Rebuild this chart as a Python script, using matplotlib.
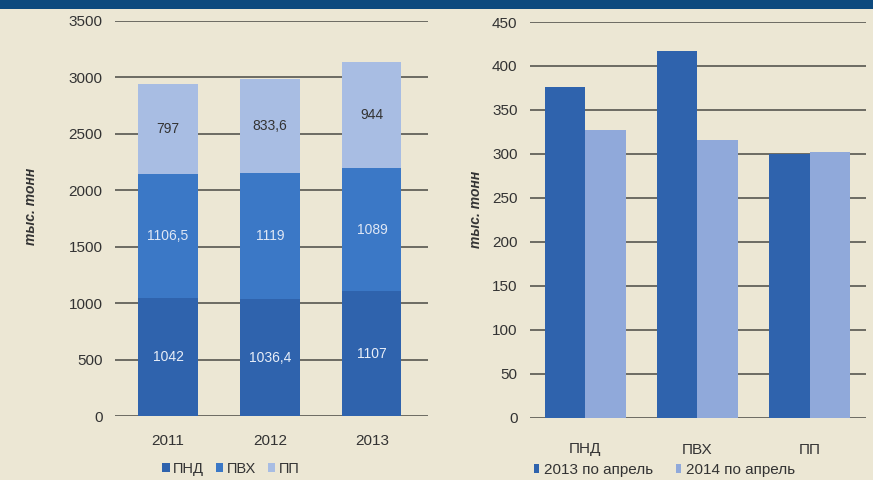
# %% Imports
import matplotlib
matplotlib.use("Agg")
import matplotlib.pyplot as plt
import numpy as np
from matplotlib.patches import Rectangle

# %% Data
years = ['2011', '2012', '2013']
pnd = [1042, 1036.4, 1107]
pvh = [1106.5, 1119, 1089]
pp = [797, 833.6, 944]
pnd_lbl = ['1042', '1036,4', '1107']
pvh_lbl = ['1106,5', '1119', '1089']
pp_lbl = ['797', '833,6', '944']

materials = ['ПНД', 'ПВХ', 'ПП']
apr_2013 = [376, 417, 300]
apr_2014 = [327, 316, 302]

# %% Style
plt.rcParams['font.family'] = ['Liberation Sans', 'DejaVu Sans']
bg = '#ece7d4'
c_dark = '#2f63ad'
c_mid = '#3b78c6'
c_light = '#a8bde3'
c_light2 = '#90a9da'
grid_c = '#4a4a44'
txt = '#333333'

fig = plt.figure(figsize=(8.73, 4.8), dpi=100, facecolor=bg)
# dark band at the top
fig.patches.append(Rectangle((0, 1 - 9 / 480), 1, 9 / 480, transform=fig.transFigure,
                             facecolor='#0d4a7e', edgecolor='none'))


def style_axes(ax, ticks, xpad):
    ax.set_facecolor(bg)
    for s in ax.spines.values():
        s.set_visible(False)
    ax.set_yticks(ticks)
    ax.yaxis.grid(True, color=grid_c, linewidth=1.1)
    ax.set_axisbelow(True)
    ax.tick_params(axis='both', length=0, labelsize=11, colors=txt)
    ax.tick_params(axis='y', pad=9)
    ax.tick_params(axis='x', pad=xpad)
    ax.set_ylabel('тыс. тонн', fontsize=10, fontstyle='italic', fontweight='bold',
                  color=txt)


# %% Left: stacked bars
ax1 = fig.add_axes([115 / 873, 1 - 416 / 480, 313 / 873, 395 / 480])
x = np.arange(len(years))
w = 0.58
ax1.bar(x, pnd, w, color=c_dark, label='ПНД')
ax1.bar(x, pvh, w, bottom=pnd, color=c_mid, label='ПВХ')
bottom3 = np.array(pnd) + np.array(pvh)
ax1.bar(x, pp, w, bottom=bottom3, color=c_light, label='ПП')
for i in range(len(years)):
    ax1.text(x[i], pnd[i] / 2, pnd_lbl[i], ha='center', va='center', fontsize=10,
             color='#e8eef8')
    ax1.text(x[i], pnd[i] + pvh[i] / 2, pvh_lbl[i], ha='center', va='center',
             fontsize=10, color='#dfe7f5')
    ax1.text(x[i], bottom3[i] + pp[i] / 2, pp_lbl[i], ha='center', va='center',
             fontsize=10, color=txt)
ax1.set_xticks(x)
ax1.set_xticklabels(years)
ax1.set_xlim(-0.52, 2.55)
ax1.set_ylim(0, 3500)
style_axes(ax1, np.arange(0, 3501, 500), 13)
ax1.yaxis.set_label_coords(-0.246, 0.53)
ax1.legend(loc='upper center', bbox_to_anchor=(0.37, -0.083), ncol=3, frameon=False,
           fontsize=10.5, handlelength=0.5, handleheight=0.6, handletextpad=0.25,
           columnspacing=0.8, labelcolor=txt)

# %% Right: grouped bars
ax2 = fig.add_axes([530 / 873, 1 - 417.5 / 480, 336 / 873, 395.5 / 480])
x2 = np.arange(len(materials))
w2 = 0.36
ax2.bar(x2 - w2 / 2, apr_2013, w2, color=c_dark, label='2013 по апрель')
ax2.bar(x2 + w2 / 2, apr_2014, w2, color=c_light2, label='2014 по апрель')
ax2.set_xticks(x2)
ax2.set_xticklabels(materials)
ax2.set_xlim(-0.49, 2.5)
ax2.set_ylim(0, 450)
style_axes(ax2, np.arange(0, 451, 50), 18)
ax2.yaxis.set_label_coords(-0.14, 0.527)
ax2.legend(loc='upper left', bbox_to_anchor=(-0.03, -0.08), ncol=2, frameon=False,
           fontsize=11, handlelength=0.35, handleheight=0.6, handletextpad=0.35,
           columnspacing=1.45, labelcolor=txt)

fig.savefig('out.png', dpi=100, facecolor=bg)
